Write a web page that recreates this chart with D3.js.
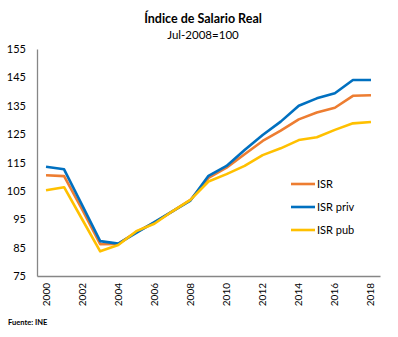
<!DOCTYPE html>
<html><head><meta charset="utf-8">
<script src="https://cdn.jsdelivr.net/npm/d3@7"></script>
<style>body{margin:0;background:#fff}svg{display:block}</style>
</head><body>
<script>
const years = [2000,2001,2002,2003,2004,2005,2006,2007,2008,2009,2010,2011,2012,2013,2014,2015,2016,2017,2018];
const yTicks = [75,85,95,105,115,125,135,145,155];
const xTickYears = [2000,2002,2004,2006,2008,2010,2012,2014,2016,2018];
const isr     = [110.5,110.2,98.5,86.2,86.3,90.5,93.8,97.8,101.8,109.6,113.2,117.9,122.6,126.2,130.2,132.6,134.3,138.5,138.7];
const isrPriv = [113.5,112.6,100.0,87.3,86.4,90.2,94.0,97.8,101.6,110.3,113.8,119.4,124.7,129.4,135.0,137.6,139.4,144.1,144.1];
const isrPub  = [105.2,106.3,95.0,83.7,85.9,90.8,93.4,97.8,101.8,108.3,110.9,113.8,117.6,120.0,122.9,123.9,126.5,128.8,129.3];
const seriesNames = ["ISR","ISR priv","ISR pub"];
const seriesColors = ["#ED7D31","#0070C0","#FFC000"];
const seriesData = [isr, isrPriv, isrPub];

const W = 398, H = 337;
const svg = d3.select("body").append("svg").attr("width", W).attr("height", H);
const font = "Lato, 'Open Sans', sans-serif";

const x = d3.scaleBand().domain(years).range([37, 380]);
const y = d3.scaleLinear().domain([75,155]).range([276, 49]);

svg.append("text").attr("x", 203).attr("y", 23).attr("text-anchor","middle")
  .attr("font-family", font).attr("font-weight","bold").attr("font-size", 12.5).attr("fill","#000")
  .text("Índice de Salario Real");
svg.append("text").attr("x", 203).attr("y", 39).attr("text-anchor","middle")
  .attr("font-family", font).attr("font-size", 11.5).attr("fill","#000")
  .text("Jul-2008=100");

// Y axis
const yAxis = svg.append("g").attr("transform","translate(37,0)")
  .call(d3.axisLeft(y).tickValues(yTicks).tickSize(0).tickPadding(11));
yAxis.select(".domain").attr("stroke","#868686").attr("stroke-width",1.3);
yAxis.selectAll("text").attr("font-family", font).attr("font-size", 11).attr("fill","#000");

// X axis
const xAxis = svg.append("g").attr("transform","translate(0,276)")
  .call(d3.axisBottom(x).tickValues(xTickYears).tickSize(0).tickSizeOuter(0));
xAxis.select(".domain").attr("stroke","#868686").attr("stroke-width",1.3);
xAxis.selectAll("text")
  .attr("font-family", font).attr("font-size", 10).attr("fill","#000")
  .attr("transform","rotate(-90)").attr("text-anchor","end")
  .attr("x", -7).attr("y", 0).attr("dy","0.35em");

// Lines
const line = d3.line().x((d,i)=> x(years[i]) + x.bandwidth()/2).y(d=>y(d));
seriesData.forEach((s,k)=>{
  svg.append("path").datum(s).attr("d", line).attr("fill","none")
    .attr("stroke", seriesColors[k]).attr("stroke-width", 2.6).attr("stroke-linejoin","round");
});

// Legend
const legY = [184, 207, 230];
seriesNames.forEach((n,k)=>{
  svg.append("line").attr("x1",291).attr("x2",315).attr("y1",legY[k]).attr("y2",legY[k])
    .attr("stroke", seriesColors[k]).attr("stroke-width",2.6);
  svg.append("text").attr("x",317).attr("y",legY[k]).attr("dy","0.36em")
    .attr("font-family", font).attr("font-size", 11).attr("fill","#000").text(n);
});

svg.append("text").attr("x", 8).attr("y", 325)
  .attr("font-family", font).attr("font-weight","bold").attr("font-size", 7.5).attr("fill","#000")
  .text("Fuente: INE");
</script>
</body></html>
